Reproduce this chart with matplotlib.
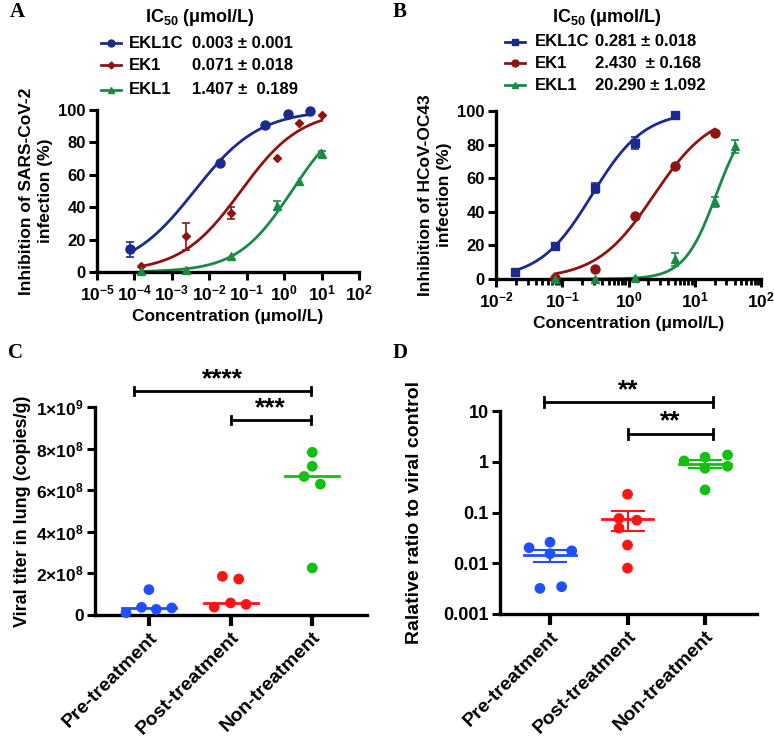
import matplotlib
matplotlib.use("Agg")
import matplotlib.pyplot as plt
import numpy as np

plt.rcParams['font.family'] = ['Liberation Sans', 'DejaVu Sans']
plt.rcParams['font.weight'] = 'bold'
plt.rcParams['mathtext.fontset'] = 'custom'
plt.rcParams['mathtext.rm'] = 'Liberation Sans:bold'
plt.rcParams['mathtext.it'] = 'Liberation Sans:bold'
plt.rcParams['mathtext.bf'] = 'Liberation Sans:bold'
plt.rcParams['mathtext.default'] = 'bf'

W, H = 774, 738

# ---------------- panel A: SARS-CoV-2 ----------------
a_names = ['EKL1C', 'EK1', 'EKL1']
a_ic50_text = ['0.003 \u00b1 0.001', '0.071 \u00b1 0.018', '1.407 \u00b1  0.189']
a_conc = [
    [7.63e-5, 0.0195, 0.3125, 1.25, 5.0],
    [1.53e-4, 0.00244, 0.039, 0.625, 2.5, 10.0],
    [1.53e-4, 0.00244, 0.039, 0.625, 2.5, 10.0],
]
a_inhib = [
    [14.0, 67.5, 91.0, 97.5, 99.5],
    [4.0, 22.0, 36.5, 70.5, 92.0, 97.0],
    [0.5, 1.5, 10.0, 41.0, 56.0, 73.0],
]
a_err = [
    [4.5, 0.0, 0.0, 0.0, 0.0],
    [0.0, 8.5, 3.5, 0.0, 0.0, 0.0],
    [0.0, 0.0, 0.0, 3.0, 0.0, 2.0],
]
# fitted curve parameters (IC50, Hill slope, top)
a_fit = [(0.004, 0.5, 100.0), (0.07, 0.54, 100.0), (1.6, 0.6, 100.0)]

# ---------------- panel B: HCoV-OC43 ----------------
b_names = ['EKL1C', 'EK1', 'EKL1']
b_ic50_text = ['0.281 \u00b1 0.018', '2.430  \u00b1 0.168', '20.290 \u00b1 1.092']
b_conc = [
    [0.0195, 0.078, 0.3125, 1.25, 5.0],
    [0.078, 0.3125, 1.25, 5.0, 20.0],
    [0.078, 0.3125, 1.25, 5.0, 20.0, 40.0],
]
b_inhib = [
    [4.0, 19.8, 54.0, 81.0, 97.5],
    [0.5, 5.8, 37.7, 67.0, 87.0],
    [0.0, 0.0, 0.5, 11.7, 46.0, 79.0],
]
b_err = [
    [0.0, 0.0, 3.0, 3.5, 0.0],
    [0.0, 0.0, 0.0, 0.0, 0.0],
    [0.0, 0.0, 0.0, 4.0, 3.0, 4.0],
]
b_fit = [(0.28, 1.1, 100.0), (2.43, 1.0, 100.0), (21.0, 1.8, 100.0)]

# ---------------- panel C / D ----------------
groups = ['Pre-treatment', 'Post-treatment', 'Non-treatment']

c_titer = [
    [0.11e8, 0.37e8, 1.22e8, 0.27e8, 0.34e8],
    [0.38e8, 1.86e8, 0.58e8, 1.73e8, 0.51e8],
    [6.66e8, 7.82e8, 7.15e8, 6.29e8, 2.26e8],
]
c_jitter = [
    [-0.28, -0.09, 0.0, 0.09, 0.28],
    [-0.2, -0.1, 0.0, 0.1, 0.19],
    [-0.1, 0.0, 0.0, 0.1, 0.0],
]
c_ticklabels = ['0', r'$2{\times}10^{8}$', r'$4{\times}10^{8}$', r'$6{\times}10^{8}$',
                r'$8{\times}10^{8}$', r'$1{\times}10^{9}$']

d_ratio = [
    [0.0202, 0.026, 0.0154, 0.0176, 0.0032, 0.00345],
    [0.229, 0.0762, 0.0706, 0.0492, 0.0228, 0.0080],
    [1.04, 1.23, 1.36, 0.745, 0.815, 0.279],
]
d_jitter = [
    [-0.27, 0.0, 0.0, 0.28, -0.13, 0.15],
    [0.0, -0.11, 0.12, -0.11, 0.0, 0.0],
    [-0.27, 0.0, 0.29, 0.0, 0.29, 0.0],
]

dark_cols = ['#1b2a8c', '#8e1414', '#1a8a47']
bright_cols = ['#1f4fff', '#ff1414', '#12c012']


def px(x, y):
    return x / W, 1 - y / H


def add_axes(l, t, r, b):
    return fig.add_axes([l / W, 1 - b / H, (r - l) / W, (b - t) / H])


def style_axes(ax):
    for s in ['top', 'right']:
        ax.spines[s].set_visible(False)
    for s in ['left', 'bottom']:
        ax.spines[s].set_linewidth(2.4)
    ax.tick_params(which='major', width=2.2, length=6, labelsize=12, pad=2)
    ax.tick_params(which='minor', width=2.0, length=4)


def hill(x, ic50, h, top):
    return top / (1 + (ic50 / x) ** h)


def dose_panel(ax, conc, inhib, err, fit, markers, msizes, xlim, ylabel):
    for i in range(3):
        c = np.array(conc[i])
        xs = np.logspace(np.log10(c.min()), np.log10(c.max()), 200)
        ax.plot(xs, hill(xs, *fit[i]), color=dark_cols[i], lw=2.0, clip_on=False)
        e = np.array(err[i])
        ax.errorbar(c, inhib[i], yerr=np.where(e > 0, e, np.nan), fmt=markers[i],
                    color=dark_cols[i], ms=msizes[i], capsize=3, elinewidth=1.2,
                    capthick=1.2, clip_on=False, zorder=3)
    ax.set_xscale('log')
    ax.set_xlim(*xlim)
    ax.set_ylim(0, 100)
    ax.set_yticks([0, 20, 40, 60, 80, 100])
    decades = np.arange(int(np.log10(xlim[0])), int(np.log10(xlim[1])) + 1)
    ax.set_xticks(10.0 ** decades)
    ax.set_xticklabels([r'$10^{%d}$' % d for d in decades])
    ax.xaxis.set_minor_locator(matplotlib.ticker.LogLocator(base=10, subs=np.arange(2, 10)))
    ax.xaxis.set_minor_formatter(matplotlib.ticker.NullFormatter())
    style_axes(ax)
    ax.tick_params(axis='x', labelsize=12.5)
    ax.set_xlabel('Concentration (\u03bcmol/L)', fontsize=12.5, fontweight='bold', labelpad=4)
    ax.set_ylabel(ylabel, fontsize=12.5, fontweight='bold', linespacing=1.3, labelpad=4)


def legend_block(x_title, y_title, x_line, x_name, x_val, ys, names, vals, markers, msizes):
    fig.text(*px(x_title, y_title), r'IC$_{50}$ ($\mu$mol/L)', ha='center', va='center',
             fontsize=13, fontweight='bold')
    for i in range(3):
        fx0, fy = px(x_line, ys[i])
        fx1, _ = px(x_line + 20, ys[i])
        fig.lines.append(matplotlib.lines.Line2D([fx0, fx1], [fy, fy], transform=fig.transFigure,
                                                 color=dark_cols[i], lw=2.0))
        fig.lines.append(matplotlib.lines.Line2D([(fx0 + fx1) / 2], [fy], transform=fig.transFigure,
                                                 color=dark_cols[i], marker=markers[i], ms=msizes[i]))
        fig.text(*px(x_name, ys[i]), names[i], ha='left', va='center', fontsize=12, fontweight='bold')
        fig.text(*px(x_val, ys[i]), vals[i], ha='left', va='center', fontsize=12, fontweight='bold')


def sig_bar(ax, x0, x1, y, y_text, label, cap, log=False):
    ax.plot([x0, x1], [y, y], color='black', lw=2.0, clip_on=False)
    lo, hi = (y / cap, y * cap) if log else (y - cap, y + cap)
    for x in (x0, x1):
        ax.plot([x, x], [lo, hi], color='black', lw=2.0, clip_on=False)
    ax.text((x0 + x1) / 2, y_text, label, ha='center', va='center', fontsize=19, fontweight='bold')


fig = plt.figure(figsize=(W / 100, H / 100), dpi=100)

# panel A
axA = add_axes(97, 110, 359, 272)
dose_panel(axA, a_conc, a_inhib, a_err, a_fit, ['o', 'D', '^'], [6.5, 4, 5.5], (1e-5, 1e2),
           'Inhibition of SARS-CoV-2\ninfection (%)')
legend_block(200, 17, 101, 129, 192, [43, 65, 90], a_names, a_ic50_text, ['o', 'D', '^'], [5, 3.5, 5])

# panel B
axB = add_axes(496, 111, 761, 279)
dose_panel(axB, b_conc, b_inhib, b_err, b_fit, ['s', 'o', '^'], [6, 6.5, 5.5], (1e-2, 1e2),
           'Inhibition of HCoV-OC43\ninfection (%)')
legend_block(607, 17, 505, 535, 595, [42, 63, 85], b_names, b_ic50_text, ['s', 'o', '^'], [5, 5, 5])

# panel C
axC = add_axes(95, 407, 367, 615)
for i in range(3):
    xs = i + np.array(c_jitter[i])
    axC.scatter(xs, c_titer[i], s=60, color=bright_cols[i], zorder=3, clip_on=False, edgecolors='none')
    med = np.median(c_titer[i])
    axC.plot([i - 0.33, i + 0.33], [med, med], color=bright_cols[i], lw=2.0, zorder=2)
axC.set_xlim(-0.66, 2.67)
axC.set_ylim(0, 1e9)
axC.set_yticks([0, 2e8, 4e8, 6e8, 8e8, 1e9])
axC.set_yticklabels(c_ticklabels)
axC.set_xticks(range(3))
axC.set_xticklabels(groups, rotation=45, ha='right', rotation_mode='anchor')
style_axes(axC)
axC.tick_params(axis='x', labelsize=14, length=8, width=3)
axC.tick_params(axis='y', labelsize=12.5)
axC.set_ylabel('Viral titer in lung (copies/g)', fontsize=13, fontweight='bold')
sig_bar(axC, -0.18, 1.98, 10.77e8, 11.35e8, '****', 0.2e8)
sig_bar(axC, 1.0, 1.98, 9.39e8, 9.95e8, '***', 0.2e8)

# panel D
axD = add_axes(500, 411, 757, 614)
for i in range(3):
    vals = np.array(d_ratio[i])
    xs = i + np.array(d_jitter[i])
    axD.scatter(xs, vals, s=60, color=bright_cols[i], zorder=3, clip_on=False, edgecolors='none')
    m = vals.mean()
    sem = vals.std(ddof=1) / np.sqrt(len(vals))
    axD.plot([i - 0.33, i + 0.33], [m, m], color=bright_cols[i], lw=2.0, zorder=2)
    axD.errorbar([i], [m], yerr=[[sem], [sem]], color=bright_cols[i], capsize=12,
                 elinewidth=1.5, capthick=1.5, zorder=2)
axD.set_yscale('log')
axD.set_xlim(-0.645, 2.67)
axD.set_ylim(1e-3, 10)
axD.set_yticks([1e-3, 1e-2, 1e-1, 1, 10])
axD.set_yticklabels(['0.001', '0.01', '0.1', '1', '10'])
axD.yaxis.set_minor_locator(matplotlib.ticker.NullLocator())
axD.set_xticks(range(3))
axD.set_xticklabels(groups, rotation=45, ha='right', rotation_mode='anchor')
style_axes(axD)
axD.tick_params(axis='x', labelsize=14, length=8, width=3)
axD.tick_params(axis='y', labelsize=13)
axD.set_ylabel('Ralative ratio to viral control', fontsize=14, fontweight='bold', labelpad=15)
sig_bar(axD, -0.08, 2.1, 15.0, 26.0, '**', 1.25, log=True)
sig_bar(axD, 1.0, 2.1, 3.58, 6.3, '**', 1.25, log=True)

# panel letters
for letter, (x, y) in zip('ABCD', [(10, 12), (393, 12), (8, 353), (393, 353)]):
    fig.text(*px(x, y), letter, fontsize=15, fontweight='bold', family='Liberation Serif',
             ha='left', va='center')

fig.savefig('out.png', dpi=100)
